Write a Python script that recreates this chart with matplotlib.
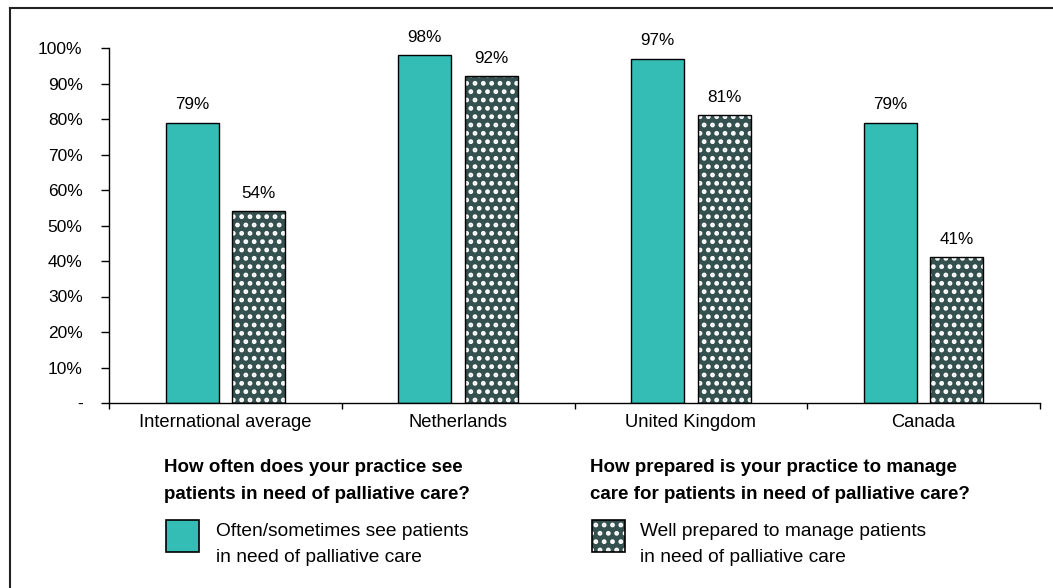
import matplotlib
matplotlib.use("Agg")
import matplotlib.pyplot as plt
from matplotlib.patches import Rectangle
from matplotlib.lines import Line2D
import numpy as np

plt.rcParams['font.family'] = ['Liberation Sans', 'DejaVu Sans']
plt.rcParams['hatch.linewidth'] = 2.2

categories = ["International average", "Netherlands", "United Kingdom", "Canada"]
often_see = [0.79, 0.98, 0.97, 0.79]
well_prepared = [0.54, 0.92, 0.81, 0.41]
ytick_vals = [0, 0.1, 0.2, 0.3, 0.4, 0.5, 0.6, 0.7, 0.8, 0.9, 1.0]
ytick_labels = ["-", "10%", "20%", "30%", "40%", "50%", "60%", "70%", "80%", "90%", "100%"]
heading1 = "How often does your practice see\npatients in need of palliative care?"
heading2 = "How prepared is your practice to manage\ncare for patients in need of palliative care?"
legend1 = "Often/sometimes see patients\nin need of palliative care"
legend2 = "Well prepared to manage patients\nin need of palliative care"

TEAL = "#33BDB5"
DARK = "#34504F"

W, H = 1053, 588
fig = plt.figure(figsize=(W / 100, H / 100), dpi=100)
ax = fig.add_axes([109 / W, 1 - 403 / H, (1040 - 109) / W, (403 - 48) / H])

x = np.arange(len(categories))
bw = 0.227
off = 0.143
ax.bar(x - off, often_see, bw, color=TEAL, edgecolor="black", linewidth=1.0, zorder=2)
ax.bar(x + off, well_prepared, bw, color=DARK, edgecolor="white", hatch="..", linewidth=0, zorder=2)
ax.bar(x + off, well_prepared, bw, fill=False, edgecolor="black", linewidth=1.0, zorder=3)

for xi, v in zip(x, often_see):
    ax.annotate(f"{round(v*100)}%", (xi - off, v), xytext=(0, 7.5), textcoords="offset points",
                ha="center", va="bottom", fontsize=12.3)
for xi, v in zip(x, well_prepared):
    ax.annotate(f"{round(v*100)}%", (xi + off, v), xytext=(0, 7.5), textcoords="offset points",
                ha="center", va="bottom", fontsize=12.3)

ax.set_xlim(-0.5, len(categories) - 0.5)
ax.set_ylim(0, 1.0)
ax.set_yticks(ytick_vals)
ax.set_yticklabels(ytick_labels, fontsize=12.5)
ax.tick_params(axis="y", direction="out", length=6, width=1, pad=13)
ax.set_xticks(x)
ax.set_xticklabels(categories, fontsize=13.2)
ax.tick_params(axis="x", which="major", length=0, pad=8)
ax.set_xticks(np.arange(len(categories) + 1) - 0.5, minor=True)
ax.tick_params(axis="x", which="minor", direction="out", length=4, width=1)
for s in ["top", "right"]:
    ax.spines[s].set_visible(False)
ax.spines["left"].set_linewidth(1)
ax.spines["bottom"].set_linewidth(1)

# legend area
fig.text(164 / W, 1 - 481 / H, heading1, fontsize=13.5, fontweight="bold", ha="left", va="center", linespacing=1.72)
fig.text(590 / W, 1 - 481 / H, heading2, fontsize=13.5, fontweight="bold", ha="left", va="center", linespacing=1.72)

fig.patches.append(Rectangle((166 / W, 1 - 552 / H), 33 / W, 32 / H, transform=fig.transFigure,
                             facecolor=TEAL, edgecolor="black", linewidth=1.2))
fig.patches.append(Rectangle((592 / W, 1 - 552 / H), 33 / W, 32 / H, transform=fig.transFigure,
                             facecolor=DARK, edgecolor="white", hatch="..", linewidth=0))
fig.patches.append(Rectangle((592 / W, 1 - 552 / H), 33 / W, 32 / H, transform=fig.transFigure,
                             fill=False, edgecolor="black", linewidth=1.2))
fig.text(216 / W, 1 - 544.5 / H, legend1, fontsize=13.8, ha="left", va="center", linespacing=1.75)
fig.text(640 / W, 1 - 544.5 / H, legend2, fontsize=13.8, ha="left", va="center", linespacing=1.75)

# outer frame (left and top)
fig.add_artist(Line2D([9.5 / W, 9.5 / W], [0, 1 - 8 / H], transform=fig.transFigure, color="#222222", linewidth=1.5))
fig.add_artist(Line2D([9.5 / W, 1], [1 - 8 / H, 1 - 8 / H], transform=fig.transFigure, color="#222222", linewidth=1.5))

fig.savefig("out.png", dpi=100)
